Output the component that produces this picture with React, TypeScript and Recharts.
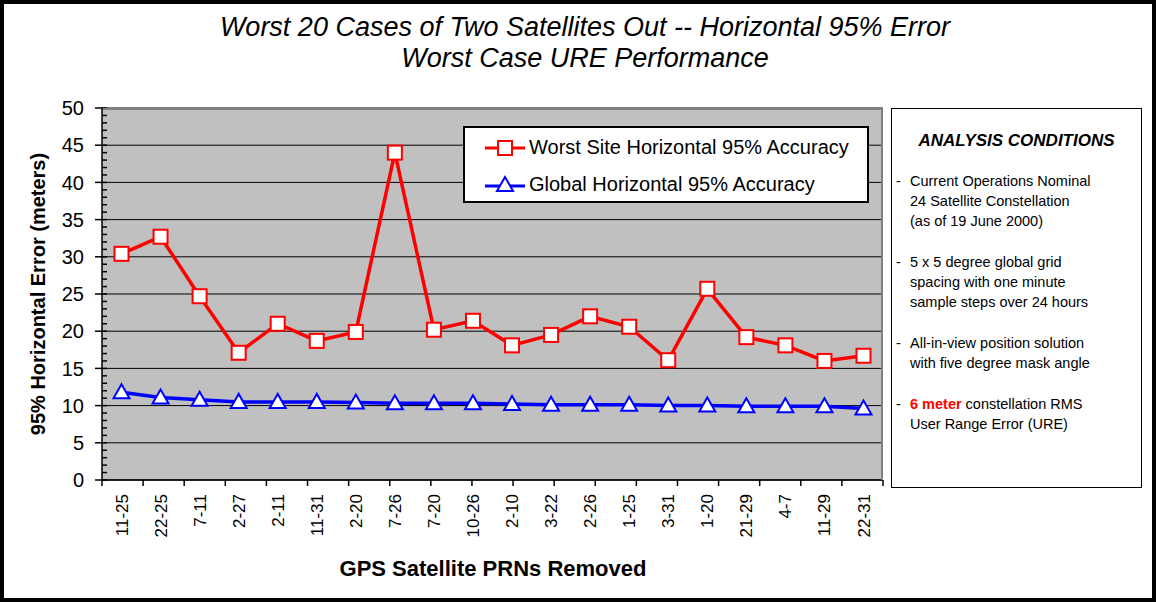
import React from 'react';
import { LineChart, Line, XAxis, YAxis, CartesianGrid } from 'recharts';

const categories = [
  '11-25', '22-25', '7-11', '2-27', '2-11', '11-31', '2-20', '7-26', '7-20', '10-26',
  '2-10', '3-22', '2-26', '1-25', '3-31', '1-20', '21-29', '4-7', '11-29', '22-31',
];
const worstSite = [
  30.4, 32.7, 24.7, 17.1, 21.0, 18.7, 19.9, 44.0, 20.2, 21.4,
  18.1, 19.5, 22.0, 20.6, 16.1, 25.7, 19.2, 18.1, 16.0, 16.7,
];
const globalAcc = [
  11.8, 11.1, 10.8, 10.5, 10.5, 10.5, 10.4, 10.3, 10.3, 10.3,
  10.2, 10.1, 10.1, 10.1, 10.0, 10.0, 9.9, 9.9, 9.9, 9.6,
];
const yTicks = [0, 5, 10, 15, 20, 25, 30, 35, 40, 45, 50];
const yMinorTicks = Array.from({ length: 51 }, (_, i) => i);
const boundaryTicks = Array.from({ length: categories.length + 1 }, (_, i) => i);

const data = categories.map((c, i) => ({ name: c, worst: worstSite[i], global: globalAcc[i] }));

const FONT = '"Liberation Sans", Arial, sans-serif';
const RED = '#FF0000';
const BLUE = '#0000FF';

const Square = (props: any) => {
  const { cx, cy, index } = props;
  if (cx == null || cy == null) return null;
  return <rect key={`sq-${index}`} x={cx - 7} y={cy - 7} width={14} height={14} fill="#fff" stroke={RED} strokeWidth={2} />;
};

const Triangle = (props: any) => {
  const { cx, cy, index } = props;
  if (cx == null || cy == null) return null;
  return (
    <polygon
      key={`tr-${index}`}
      points={`${cx},${cy - 8} ${cx - 8},${cy + 6} ${cx + 8},${cy + 6}`}
      fill="#fff"
      stroke={BLUE}
      strokeWidth={2}
    />
  );
};

const XLabel = (props: any) => {
  const { x, y, payload } = props;
  return (
    <text x={x} y={y} transform={`rotate(-90 ${x} ${y})`} textAnchor="end" dy={6} fontSize={17} fontFamily={FONT} fill="#000">
      {payload.value}
    </text>
  );
};

const LegendBox = () => (
  <div style={{ position: 'absolute', left: 463, top: 126, width: 406, height: 77, background: '#fff', border: '2px solid #000', boxSizing: 'border-box', fontSize: 20, color: '#000', padding: '1px 0 0 18px' }}>
    <div style={{ display: 'flex', alignItems: 'center', height: 37 }}>
      <svg width={44} height={20} style={{ marginRight: 2 }}>
        <line x1={2} y1={10} x2={42} y2={10} stroke={RED} strokeWidth={3} />
        <rect x={15} y={3} width={14} height={14} fill="#fff" stroke={RED} strokeWidth={2} />
      </svg>
      Worst Site Horizontal 95% Accuracy
    </div>
    <div style={{ display: 'flex', alignItems: 'center', height: 37 }}>
      <svg width={44} height={20} style={{ marginRight: 2 }}>
        <line x1={2} y1={11} x2={42} y2={11} stroke={BLUE} strokeWidth={3} />
        <polygon points="22,2 14,16 30,16" fill="#fff" stroke={BLUE} strokeWidth={2} />
      </svg>
      Global Horizontal 95% Accuracy
    </div>
  </div>
);

const itemStyle: React.CSSProperties = { position: 'relative', paddingLeft: 18, lineHeight: '20px', marginBottom: 21 };
const dash: React.CSSProperties = { position: 'absolute', left: 4, top: 0 };

export default function App() {
  return (
    <div style={{ position: 'absolute', left: 0, top: 0, width: 1156, height: 602, background: '#fff', fontFamily: FONT, overflow: 'hidden' }}>
      <div style={{ position: 'absolute', left: 0, top: 0, width: 1156, height: 602, border: '4px solid #000', boxSizing: 'border-box' }} />
      <div style={{ position: 'absolute', left: 0, top: 12, width: 1170, textAlign: 'center', fontStyle: 'italic', fontSize: 27, lineHeight: '31px', color: '#000' }}>
        Worst 20 Cases of Two Satellites Out -- Horizontal 95% Error
        <br />
        Worst Case URE Performance
      </div>

      <div style={{ position: 'absolute', left: 0, top: 0 }}>
        <LineChart width={900} height={602} data={data} margin={{ top: 108, right: 17, bottom: 41, left: 42 }}>
          <CartesianGrid vertical={false} stroke="#000" strokeWidth={1} fill="#C0C0C0" yAxisId="b_main" horizontalValues={yTicks} />
          <XAxis xAxisId="a_marks" type="number" domain={[0, categories.length]} ticks={boundaryTicks} interval={0} tickFormatter={() => ''} tickSize={6} height={1} axisLine={{ stroke: '#000', strokeWidth: 1.5 }} tickLine={{ stroke: '#000', strokeWidth: 1.5 }} allowDataOverflow />
          <XAxis xAxisId="b_cat" dataKey="name" interval={0} padding={{ left: 19.5, right: 19.5 }} tickLine={false} axisLine={false} height={80} tick={<XLabel />} tickMargin={7} />
          <YAxis yAxisId="a_minor" domain={[0, 50]} ticks={yMinorTicks} interval={0} tickFormatter={() => ''} mirror tickSize={5} width={1} axisLine={false} tickLine={{ stroke: '#000', strokeWidth: 1.5 }} allowDataOverflow />
          <YAxis
            yAxisId="b_main"
            domain={[0, 50]}
            ticks={yTicks}
            interval={0}
            width={60}
            tickSize={7}
            tickMargin={11}
            axisLine={{ stroke: '#000', strokeWidth: 1.5 }}
            tickLine={{ stroke: '#000', strokeWidth: 1.5 }}
            tick={{ fontSize: 20, fontFamily: FONT, fill: '#000' }}
          />
          <Line xAxisId="b_cat" yAxisId="b_main" type="linear" dataKey="worst" name="Worst Site Horizontal 95% Accuracy" stroke={RED} strokeWidth={3.5} dot={<Square />} activeDot={false} isAnimationActive={false} />
          <Line xAxisId="b_cat" yAxisId="b_main" type="linear" dataKey="global" name="Global Horizontal 95% Accuracy" stroke={BLUE} strokeWidth={3.5} dot={<Triangle />} activeDot={false} isAnimationActive={false} />
        </LineChart>
      </div>

      <div style={{ position: 'absolute', left: 103, top: 108, width: 780, height: 372, borderTop: '2px solid #808080', borderRight: '2px solid #808080', boxSizing: 'border-box', pointerEvents: 'none' }} />

      <LegendBox />

      <div style={{ position: 'absolute', left: 38, top: 294, width: 0, height: 0 }}>
        <div style={{ position: 'absolute', left: -200, top: -12, width: 400, textAlign: 'center', transform: 'rotate(-90deg)', fontSize: 20, fontWeight: 'bold', lineHeight: '24px', color: '#000', whiteSpace: 'nowrap' }}>
          95% Horizontal Error (meters)
        </div>
      </div>

      <div style={{ position: 'absolute', left: 0, top: 556, width: 986, textAlign: 'center', fontSize: 22, fontWeight: 'bold', color: '#000' }}>
        GPS Satellite PRNs Removed
      </div>

      <div style={{ position: 'absolute', left: 891, top: 108, width: 251, height: 380, border: '1.5px solid #000', boxSizing: 'border-box', fontSize: 14.5, color: '#000', padding: '22px 0 0 0' }}>
        <div style={{ textAlign: 'center', fontWeight: 'bold', fontStyle: 'italic', fontSize: 17, marginBottom: 20 }}>ANALYSIS CONDITIONS</div>
        <div style={itemStyle}>
          <span style={dash}>-</span>Current Operations Nominal<br />24 Satellite Constellation<br />(as of 19 June 2000)
        </div>
        <div style={itemStyle}>
          <span style={dash}>-</span>5 x 5 degree global grid<br />spacing with one minute<br />sample steps over 24 hours
        </div>
        <div style={itemStyle}>
          <span style={dash}>-</span>All-in-view position solution<br />with five degree mask angle
        </div>
        <div style={itemStyle}>
          <span style={dash}>-</span><span style={{ color: RED, fontWeight: 'bold' }}>6 meter</span> constellation RMS<br />User Range Error (URE)
        </div>
      </div>
    </div>
  );
}
